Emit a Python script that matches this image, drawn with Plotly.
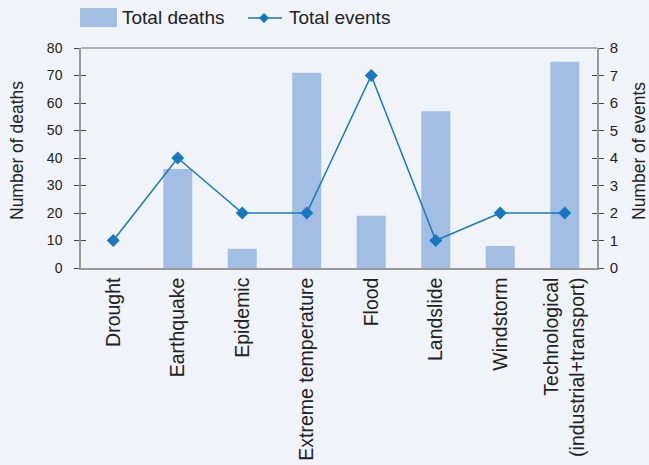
import plotly.graph_objects as go

categories = ["Drought", "Earthquake", "Epidemic", "Extreme temperature", "Flood",
              "Landslide", "Windstorm", "Technological<br>(industrial+transport)"]
total_deaths = [0, 36, 7, 71, 19, 57, 8, 75]
total_events = [1, 4, 2, 2, 7, 1, 2, 2]
death_ticks = [0, 10, 20, 30, 40, 50, 60, 70, 80]
event_ticks = [0, 1, 2, 3, 4, 5, 6, 7, 8]
series_names = ["Total deaths", "Total events"]
axis_titles = ["Number of deaths", "Number of events"]

BG = "#f0f4f9"
BAR = "#a2bee3"
LINE = "#1479c0"
AX = "#999999"
TICK = "#444444"
TXT = "#222222"
FONT = "Liberation Sans, Arial, sans-serif"

W, H = 649, 465
L, R, T, B = 81, 52, 48, 197
PW, PH = W - L - R, H - T - B


def px2paper(px, py):
    return (px - L) / PW, (H - B - py) / PH


fig = go.Figure()
fig.add_trace(go.Bar(x=categories, y=total_deaths, name=series_names[0],
                     marker=dict(color=BAR, line=dict(width=0)), yaxis="y", showlegend=False))
fig.add_trace(go.Scatter(x=categories, y=total_events, name=series_names[1], mode="lines+markers",
                         line=dict(color=LINE, width=1.5),
                         marker=dict(symbol="diamond", size=10, color=LINE), yaxis="y2",
                         showlegend=False))
# invisible traces so the extra inside-tick axes render
fig.add_trace(go.Scatter(x=[categories[0]], y=[0], yaxis="y3", mode="markers",
                         marker=dict(opacity=0), showlegend=False, hoverinfo="skip"))
fig.add_trace(go.Scatter(x=[categories[0]], y=[0], yaxis="y4", mode="markers",
                         marker=dict(opacity=0), showlegend=False, hoverinfo="skip"))

# manual legend
sx0, sy0 = px2paper(80, 27)
sx1, sy1 = px2paper(117, 8)
lx0, ly = px2paper(248, 18)
lx1, _ = px2paper(282, 18)
mx, my = px2paper(264, 18)
dx, dy = 5 / PW, 5 / PH
t1x, _ = px2paper(120, 18)
t2x, _ = px2paper(287, 18)
ltx, tty = px2paper(17, 151)
rtx, _ = px2paper(639, 151)

shapes = [
    dict(type="line", xref="paper", yref="paper", x0=0, x1=1, y0=1, y1=1,
         line=dict(color=AX, width=1.5)),
    dict(type="rect", xref="paper", yref="paper", x0=sx0, x1=sx1, y0=sy0, y1=sy1,
         fillcolor=BAR, line=dict(width=0)),
    dict(type="line", xref="paper", yref="paper", x0=lx0, x1=lx1, y0=ly, y1=ly,
         line=dict(color=LINE, width=1.5)),
    dict(type="path", xref="paper", yref="paper",
         path=f"M {mx-dx} {my} L {mx} {my+dy} L {mx+dx} {my} L {mx} {my-dy} Z",
         fillcolor=LINE, line=dict(width=0)),
]
annotations = [
    dict(text=series_names[0], xref="paper", yref="paper", x=t1x, y=ly, xanchor="left",
         yanchor="middle", showarrow=False, font=dict(size=19, color=TXT)),
    dict(text=series_names[1], xref="paper", yref="paper", x=t2x, y=ly, xanchor="left",
         yanchor="middle", showarrow=False, font=dict(size=19, color=TXT)),
    dict(text=axis_titles[0], xref="paper", yref="paper", x=ltx, y=tty, xanchor="center",
         yanchor="middle", showarrow=False, textangle=-90, font=dict(size=17.5, color=TXT)),
    dict(text=axis_titles[1], xref="paper", yref="paper", x=rtx, y=tty, xanchor="center",
         yanchor="middle", showarrow=False, textangle=-90, font=dict(size=17.5, color=TXT)),
]

fig.update_layout(
    width=W, height=H,
    margin=dict(l=L, r=R, t=T, b=B, autoexpand=False),
    paper_bgcolor=BG, plot_bgcolor=BG,
    font=dict(family=FONT, color=TXT, size=14),
    bargap=0.55,
    showlegend=False,
    xaxis=dict(showline=True, linecolor=AX, linewidth=1.5, mirror=False, ticks="",
               tickangle=-90, tickfont=dict(size=19.5), showgrid=False,
               zeroline=False, automargin=False),
    yaxis=dict(range=[0, 80], tickvals=death_ticks, showline=True, linecolor=AX, linewidth=1.5,
               ticks="outside", ticklen=5, tickcolor=TICK, showgrid=False, zeroline=False,
               tickfont=dict(size=14), ticklabelstandoff=9, automargin=False),
    yaxis2=dict(range=[0, 8], tickvals=event_ticks, overlaying="y", side="right",
                showline=True, linecolor=AX, linewidth=1.5,
                ticks="outside", ticklen=5, tickcolor=TICK, showgrid=False, zeroline=False,
                tickfont=dict(size=15), ticklabelstandoff=3, automargin=False),
    yaxis3=dict(range=[0, 80], tickvals=death_ticks, overlaying="y", side="left", anchor="x",
                ticks="inside", ticklen=5, tickcolor=TICK, showticklabels=False,
                showgrid=False, zeroline=False, showline=False),
    yaxis4=dict(range=[0, 8], tickvals=event_ticks, overlaying="y", side="right", anchor="x",
                ticks="inside", ticklen=5, tickcolor=TICK, showticklabels=False,
                showgrid=False, zeroline=False, showline=False),
    shapes=shapes,
    annotations=annotations,
)

fig.write_html("out.html")
